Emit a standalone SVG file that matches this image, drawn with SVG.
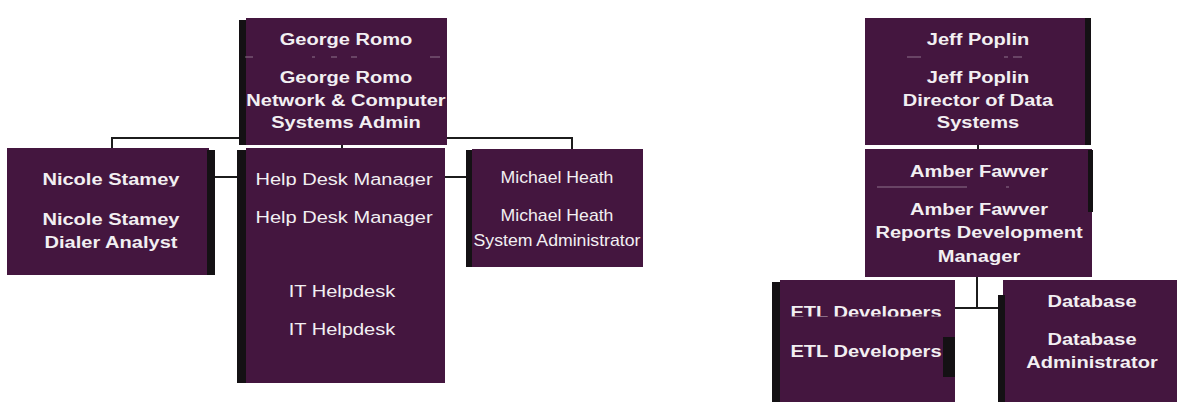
<svg xmlns="http://www.w3.org/2000/svg" width="1177" height="402" viewBox="0 0 1177 402">
<style>
.box{fill:#44163f}
.bar{fill:#141114}
.t{font-family:"Liberation Sans",Arial,sans-serif;font-size:17px;fill:#f2eff2;text-anchor:middle;transform-box:fill-box;transform-origin:center;transform:scaleX(1.18)}
.b{font-weight:bold}
.n{transform:scaleX(1.04)}
.c{fill:none;stroke:#1c1c1c;stroke-width:2}
.d{stroke:#e8e2e8;stroke-width:1.2;opacity:0.45}
</style>
<defs>
<clipPath id="cNic"><rect x="0" y="140" width="260" height="46.5"/></clipPath>
<clipPath id="cHelp"><rect x="240" y="140" width="220" height="46.5"/></clipPath>
<clipPath id="cIT"><rect x="240" y="270" width="220" height="28.5"/></clipPath>
<clipPath id="cETL"><rect x="770" y="280" width="200" height="36.5"/></clipPath>
</defs>
<g id="connectors">
<path class="c" d="M112 148 V138 H239"/>
<path class="c" d="M447 138 H572 V149"/>
<path class="c" d="M342 145 V148"/>
<path class="c" d="M215 177 H238"/>
<path class="c" d="M445 177 H466"/>
<path class="c" d="M978 145 V149"/>
<path class="c" d="M977 277 V308 M955 308 H998"/>
</g>
<g id="george">
<rect class="box" x="246" y="18" width="201" height="127"/>
<rect class="bar" x="239" y="20" width="7" height="125"/>
<path class="d" d="M245 57 h8 M312 57 h3 M331 57 h6 M351 57 h6 M430 57 h10"/>
<text class="t b" x="346" y="45">George Romo</text>
<text class="t b" x="346" y="83">George Romo</text>
<text class="t b" x="346" y="106">Network &amp; Computer</text>
<text class="t b" x="346" y="128">Systems Admin</text>
</g>
<g id="nicole">
<rect class="box" x="7" y="148" width="202" height="127"/>
<rect class="bar" x="207" y="150" width="8" height="125"/>
<text class="t b" x="111" y="185" clip-path="url(#cNic)">Nicole Stamey</text>
<text class="t b" x="111" y="225">Nicole Stamey</text>
<text class="t b" x="111" y="248">Dialer Analyst</text>
</g>
<g id="helpdesk">
<rect class="box" x="246" y="148" width="199" height="235"/>
<rect class="bar" x="237" y="150" width="9" height="233"/>
<text class="t" x="344" y="185" clip-path="url(#cHelp)">Help Desk Manager</text>
<text class="t" x="344" y="223">Help Desk Manager</text>
<text class="t" x="342" y="297" clip-path="url(#cIT)">IT Helpdesk</text>
<text class="t" x="342" y="335">IT Helpdesk</text>
</g>
<g id="michael">
<rect class="box" x="472" y="149" width="171" height="118"/>
<rect class="bar" x="466" y="150" width="6" height="117"/>
<text class="t n" x="557" y="183">Michael Heath</text>
<text class="t n" x="557" y="221">Michael Heath</text>
<text class="t n" x="557" y="246">System Administrator</text>
</g>
<g id="jeff">
<rect class="box" x="865" y="18" width="221" height="127"/>
<rect class="bar" x="1085" y="18" width="6" height="127"/>
<path class="d" d="M907 57 h14 M1004 57 h4 M1013 57 h9"/>
<text class="t b" x="978" y="45">Jeff Poplin</text>
<text class="t b" x="978" y="83">Jeff Poplin</text>
<text class="t b" x="978" y="106">Director of Data</text>
<text class="t b" x="978" y="128">Systems</text>
</g>
<g id="amber">
<rect class="box" x="865" y="149" width="227" height="128"/>
<rect class="bar" x="1088" y="150" width="5" height="62"/>
<path class="d" d="M877 187 H967 M1006 187 h3"/>
<text class="t b" x="979" y="177">Amber Fawver</text>
<text class="t b" x="979" y="215">Amber Fawver</text>
<text class="t b" x="979" y="238">Reports Development</text>
<text class="t b" x="979" y="262">Manager</text>
</g>
<g id="etl">
<rect class="box" x="780" y="280" width="175" height="122"/>
<rect class="bar" x="772" y="282" width="8" height="120"/>
<rect class="bar" x="943" y="337" width="12" height="40"/>
<text class="t b" x="866" y="318" clip-path="url(#cETL)">ETL Developers</text>
<text class="t b" x="866" y="357">ETL Developers</text>
</g>
<g id="database">
<rect class="box" x="1003" y="280" width="174" height="122"/>
<rect class="bar" x="998" y="295" width="7" height="107"/>
<text class="t b" x="1092" y="307">Database</text>
<text class="t b" x="1092" y="345">Database</text>
<text class="t b" x="1092" y="368">Administrator</text>
</g>
</svg>
